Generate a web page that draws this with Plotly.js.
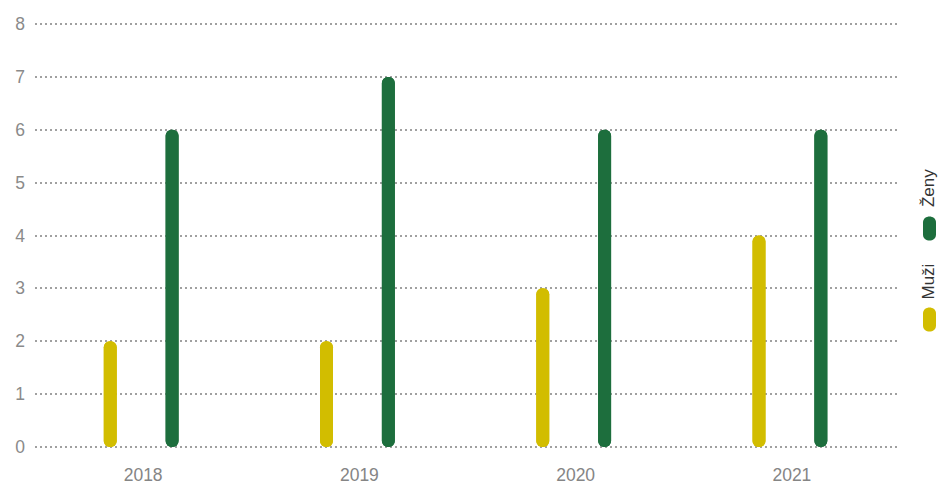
<!DOCTYPE html>
<html>
<head>
<meta charset="utf-8">
<script src="https://cdn.plot.ly/plotly-3.0.1.min.js"></script>
<style>html,body{margin:0;padding:0;background:#fff;}#chart{width:940px;height:484px;}</style>
</head>
<body>
<div id="chart"></div>
<script>
const years = ['2018', '2019', '2020', '2021'];
const muzi = [2, 2, 3, 4];
const zeny = [6, 7, 6, 6];
const seriesNames = ['Muži', 'Ženy'];
const yTicks = [0, 1, 2, 3, 4, 5, 6, 7, 8];

const colMuzi = '#d2bd00';
const colZeny = '#1d6e3d';
const barW = 0.06;
const offs = [-0.182, 0.104];

function pill(name, vals, color, off) {
  const up = {
    type: 'bar', name: name, x: years, y: vals, base: vals.map(() => 0),
    width: barW, offset: off, marker: {color: color, cornerradius: 7, line: {width: 0}},
    showlegend: false, hoverinfo: 'skip'
  };
  const down = {
    type: 'bar', name: name, x: years, y: vals.map(v => -v), base: vals,
    width: barW, offset: off, marker: {color: color, cornerradius: 7, line: {width: 0}},
    showlegend: false, hoverinfo: 'skip'
  };
  return [up, down];
}

const data = [].concat(pill(seriesNames[0], muzi, colMuzi, offs[0]), pill(seriesNames[1], zeny, colZeny, offs[1]));

function legendShape(ya, color) {
  return {
    type: 'path', xref: 'paper', yref: 'paper', xsizemode: 'pixel', ysizemode: 'pixel',
    xanchor: 1.0341, yanchor: ya,
    path: 'M -6.5,-6 L -6.5,6 C -6.5,14 6.5,14 6.5,6 L 6.5,-6 C 6.5,-14 -6.5,-14 -6.5,-6 Z',
    fillcolor: color, line: {width: 0}
  };
}

// paper y for legend items relative to plot area (plot from y=22 to y=449 px)
function py(pxY) { return (449 - pxY) / 427; }

const layout = {
  width: 940, height: 484,
  margin: {l: 35, r: 40, t: 22, b: 35},
  paper_bgcolor: '#fff', plot_bgcolor: '#fff',
  barmode: 'overlay',
  font: {family: '"Liberation Sans", Arial, sans-serif', color: '#888', size: 16},
  xaxis: {
    type: 'category', range: [-0.5, 3.5], showgrid: false, zeroline: false, showline: false,
    ticks: '', tickfont: {size: 17.5, color: '#858585'}, ticklabelstandoff: 13, fixedrange: true
  },
  yaxis: {
    range: [-0.04, 8.04], tickvals: yTicks, ticktext: yTicks.map(String), showgrid: true,
    gridcolor: '#a0a0a0', gridwidth: 2, griddash: '2px,3px', zeroline: false, showline: false,
    ticks: '', tickfont: {size: 17.5, color: '#8a8a8a'}, ticklabelstandoff: 9, fixedrange: true
  },
  shapes: [legendShape(py(319.5), colMuzi), legendShape(py(228.5), colZeny)],
  annotations: [
    {xref: 'paper', yref: 'paper', x: 1.0324, y: py(281.5), text: seriesNames[0], showarrow: false,
     textangle: -90, font: {size: 17, color: '#333'}, xanchor: 'center', yanchor: 'middle'},
    {xref: 'paper', yref: 'paper', x: 1.0324, y: py(188), text: seriesNames[1], showarrow: false,
     textangle: -90, font: {size: 17, color: '#333'}, xanchor: 'center', yanchor: 'middle'}
  ],
  showlegend: false
};

Plotly.newPlot('chart', data, layout, {displayModeBar: false, staticPlot: true});
</script>
</body>
</html>
